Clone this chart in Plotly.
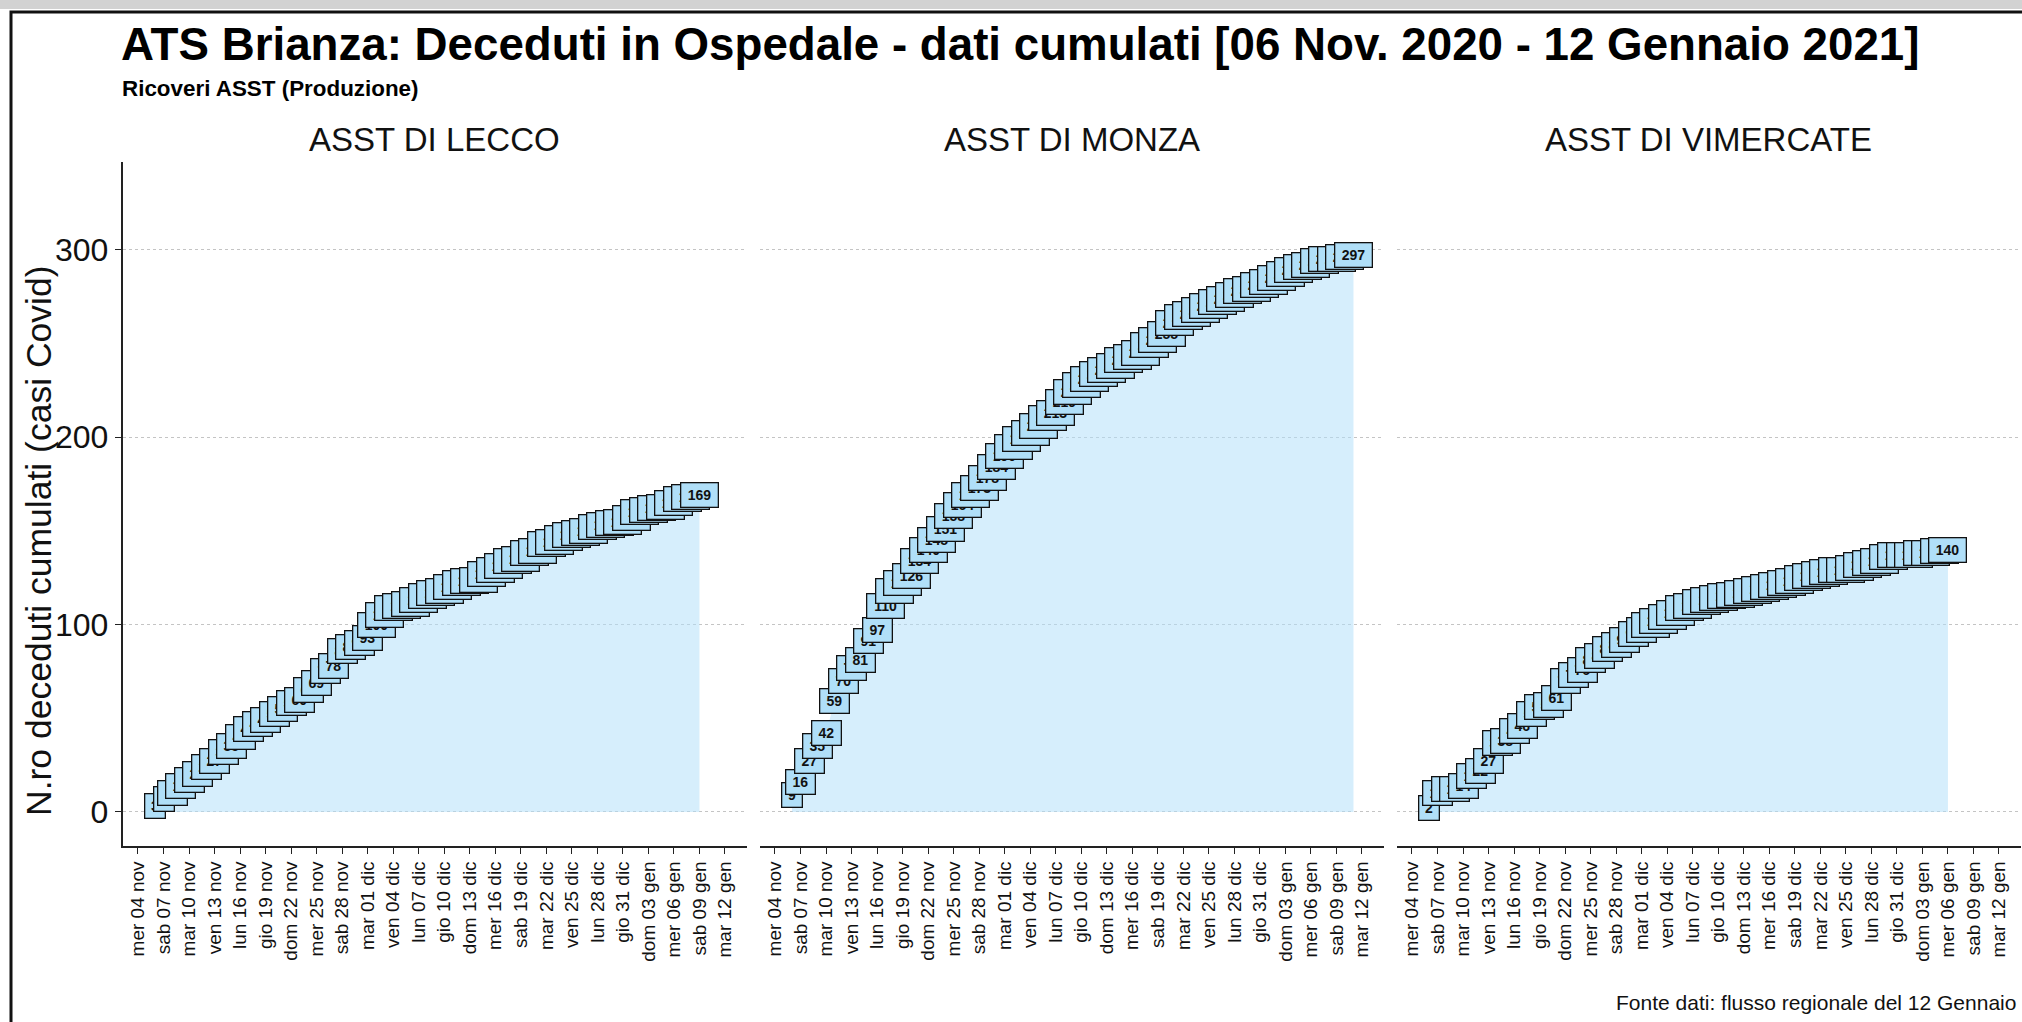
import plotly.graph_objects as go
import pandas as pd

W, H = 2022, 1022

# ---------------- data ----------------
tick_dates = ["2020-11-04", "2020-11-07", "2020-11-10", "2020-11-13", "2020-11-16", "2020-11-19",
              "2020-11-22", "2020-11-25", "2020-11-28", "2020-12-01", "2020-12-04", "2020-12-07",
              "2020-12-10", "2020-12-13", "2020-12-16", "2020-12-19", "2020-12-22", "2020-12-25",
              "2020-12-28", "2020-12-31", "2021-01-03", "2021-01-06", "2021-01-09", "2021-01-12"]
tick_labels = ["mer 04 nov", "sab 07 nov", "mar 10 nov", "ven 13 nov", "lun 16 nov", "gio 19 nov",
               "dom 22 nov", "mer 25 nov", "sab 28 nov", "mar 01 dic", "ven 04 dic", "lun 07 dic",
               "gio 10 dic", "dom 13 dic", "mer 16 dic", "sab 19 dic", "mar 22 dic", "ven 25 dic",
               "lun 28 dic", "gio 31 dic", "dom 03 gen", "mer 06 gen", "sab 09 gen", "mar 12 gen"]

panel_titles = ["ASST DI LECCO", "ASST DI MONZA", "ASST DI VIMERCATE"]

lecco_start = "2020-11-06"
lecco_values = [3, 7, 10, 14, 17, 20, 24, 27, 32, 35,
                40, 44, 47, 49, 52, 55, 58, 60, 65, 69,
                75, 78, 86, 88, 90, 93, 100, 105, 109, 110,
                111, 113, 115, 117,
                118, 120, 122, 123, 124, 127, 129, 131, 134, 135,
                138, 139, 143, 144, 146, 148, 149, 150, 152, 153,
                154, 155, 157, 160, 161, 162, 163, 165, 167, 168, 169]

monza_start = "2020-11-06"
monza_values = [9, 16, 27, 35, 42, 59, 70, 77, 81, 91,
                97, 110, 118, 122, 126, 134, 140, 145, 151, 158,
                164, 169, 173, 178, 184, 190, 195, 199, 202, 206,
                210, 213, 219, 224, 228, 231, 234, 236, 238, 241,
                243, 245, 249, 252, 255, 261, 264, 266, 268, 270,
                272, 274, 276, 278, 279, 281, 283, 285, 287, 289,
                291, 292, 294, 295, 295, 296, 297]

vimercate_start = "2020-11-06"
vimercate_values = [2, 10, 12, 12, 14, 19, 22, 27, 37, 38,
                    43, 46, 52, 56, 57, 61, 70, 73, 76, 81,
                    83, 87, 89, 92, 95, 97, 100, 102, 104, 106,
                    109, 110, 112, 113, 114, 115, 116, 117, 118, 119,
                    120, 121, 122, 123, 125, 126, 127, 128, 129, 129,
                    130, 132, 133, 134, 136, 137, 137, 137, 138, 138,
                    139, 140]

series = [(lecco_start, lecco_values), (monza_start, monza_values), (vimercate_start, vimercate_values)]

# ---------------- styling / layout ----------------
FONT = "Liberation Sans, Arial, sans-serif"
AREA_FILL = "rgba(176,222,250,0.52)"
LABEL_FILL = "#b0dff8"
DARK = "#111111"

panel_x0 = [122.5, 759.5, 1396.5]
panel_w = 624.0
plot_top, plot_bottom = 162.0, 846.0
x_range = ["2020-11-02 04:20:00", "2021-01-14 12:40:00"]
y_range = [-18.2, 346.9]


def fx(px):
    return px / W


def fy(py):
    return 1 - py / H


fig = go.Figure()
annotations = []

for i, (start, vals) in enumerate(series):
    k = "" if i == 0 else str(i + 1)
    dates = pd.date_range(start, periods=len(vals), freq="D")
    fig.add_trace(go.Scatter(
        x=dates, y=vals, mode="lines", fill="tozeroy", fillcolor=AREA_FILL,
        line=dict(width=0, color=AREA_FILL), xaxis="x" + k, yaxis="y" + k,
        hoverinfo="skip", showlegend=False))
    for d, v in zip(dates, vals):
        n = len(str(v))
        annotations.append(dict(
            x=d.strftime("%Y-%m-%d"), y=v, xref="x" + k, yref="y" + k,
            text="<b>%d</b>" % v, showarrow=False,
            font=dict(family=FONT, size=14, color=DARK),
            bgcolor=LABEL_FILL, bordercolor="#111111", borderwidth=1.3, borderpad=3,
            width=8.5 * n + 5, height=17, xanchor="center", yanchor="middle"))

    x0 = panel_x0[i]
    xa = dict(domain=[fx(x0), fx(x0 + panel_w)], type="date", range=x_range,
              anchor="y" + k, tickmode="array", tickvals=tick_dates, ticktext=tick_labels,
              tickangle=-90, ticks="outside", ticklen=6, tickwidth=1.3, tickcolor="#222222",
              showline=True, linecolor="#222222", linewidth=1.6, showgrid=False, zeroline=False,
              tickfont=dict(family=FONT, size=19, color=DARK), automargin=False, fixedrange=True)
    ya = dict(domain=[fy(plot_bottom), fy(plot_top)], range=y_range, anchor="x" + k,
              tickmode="array", tickvals=[0, 100, 200, 300],
              showgrid=True, gridcolor="#c4c4c4", griddash="dot", gridwidth=1.2,
              zeroline=False, automargin=False, fixedrange=True)
    if i == 0:
        ya.update(showline=True, linecolor="#222222", linewidth=1.6, ticks="outside",
                  ticklen=6, tickwidth=1.3, tickcolor="#222222", showticklabels=True,
                  tickfont=dict(family=FONT, size=32, color=DARK))
    else:
        ya.update(showline=False, ticks="", showticklabels=False)
    fig.layout["xaxis" + k] = xa
    fig.layout["yaxis" + k] = ya

    # panel strip title
    annotations.append(dict(
        x=fx(x0 + panel_w / 2), y=fy(139), xref="paper", yref="paper",
        text=panel_titles[i], showarrow=False, xanchor="center", yanchor="middle",
        font=dict(family=FONT, size=33, color=DARK)))

# main title, subtitle, axis title, caption
annotations.append(dict(
    x=fx(119), y=fy(45), xref="paper", yref="paper", showarrow=False,
    text="<b>ATS Brianza: Deceduti in Ospedale - dati cumulati [06 Nov. 2020 - 12 Gennaio 2021]</b>",
    xanchor="left", yanchor="middle", font=dict(family=FONT, size=45.7, color="#000000")))
annotations.append(dict(
    x=fx(120), y=fy(89), xref="paper", yref="paper", showarrow=False,
    text="<b>Ricoveri ASST (Produzione)</b>", xanchor="left", yanchor="middle",
    font=dict(family=FONT, size=22.4, color="#000000")))
annotations.append(dict(
    x=fx(39), y=fy(541), xref="paper", yref="paper", showarrow=False, textangle=-90,
    text="N.ro deceduti cumulati (casi Covid)", xanchor="center", yanchor="middle",
    font=dict(family=FONT, size=35.5, color=DARK)))
annotations.append(dict(
    x=fx(1614), y=fy(1002), xref="paper", yref="paper", showarrow=False,
    text="Fonte dati: flusso regionale del 12 Gennaio 2021", xanchor="left", yanchor="middle",
    font=dict(family=FONT, size=21, color=DARK)))

shapes = [
    dict(type="rect", xref="paper", yref="paper", x0=0, x1=1.02, y0=fy(0), y1=fy(9),
         fillcolor="#d2d2d2", line=dict(width=0), layer="above"),
    dict(type="rect", xref="paper", yref="paper", x0=fx(11), x1=1.02, y0=fy(12), y1=-0.02,
         fillcolor="rgba(0,0,0,0)", line=dict(color="#111111", width=3), layer="above"),
]

fig.update_layout(
    width=W, height=H, autosize=False,
    margin=dict(l=0, r=0, t=0, b=0, pad=0),
    paper_bgcolor="white", plot_bgcolor="white",
    showlegend=False, annotations=annotations, shapes=shapes,
    font=dict(family=FONT, color=DARK),
)

fig.write_html("out.html", config={"displayModeBar": False},
               post_script="document.body.style.margin='0';document.body.style.overflow='hidden';")
